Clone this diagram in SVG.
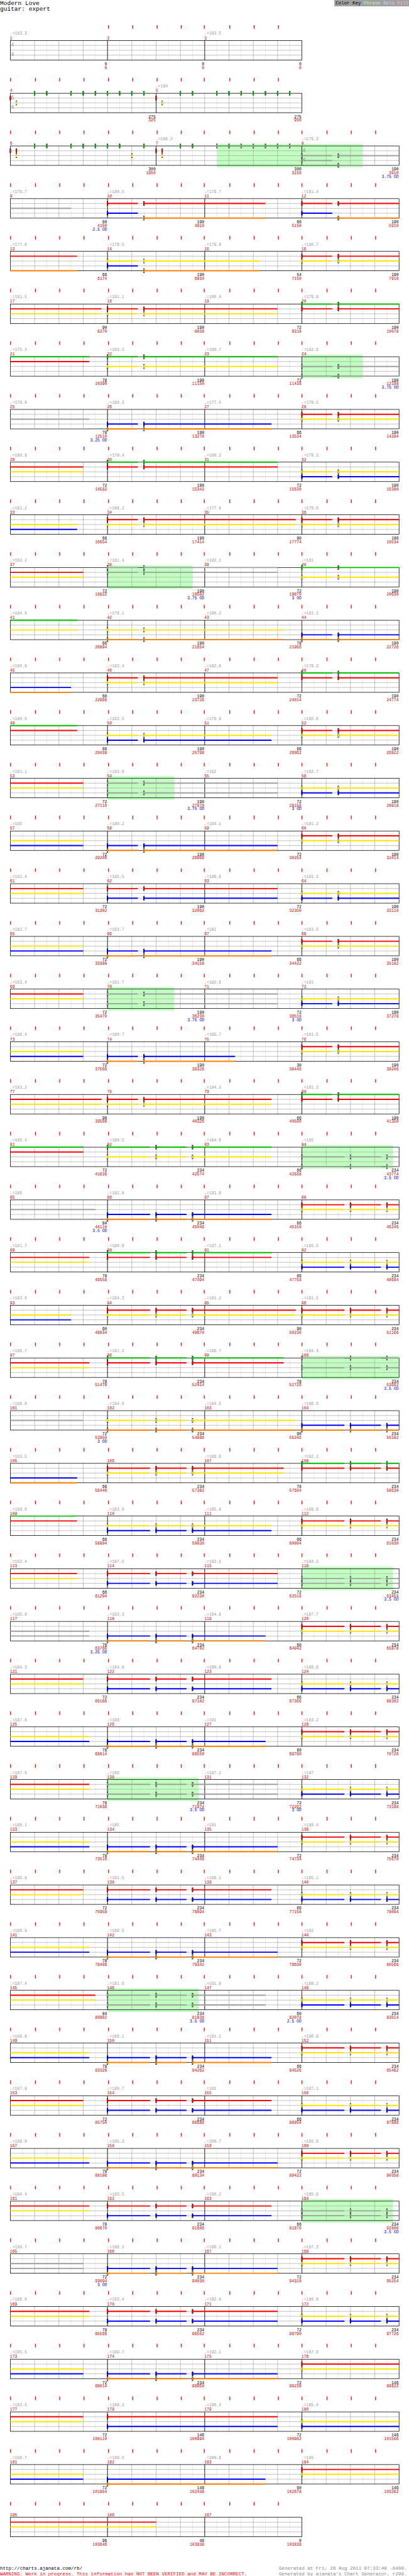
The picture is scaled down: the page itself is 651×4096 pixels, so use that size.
<svg xmlns="http://www.w3.org/2000/svg" width="651" height="4096" viewBox="0 0 651 4096">
<style>
.tk{fill:none;stroke:#f00;stroke-width:2}
.lg{fill:none;stroke:#e0e0e0}
.bg{fill:none;stroke:#a0a0a0}
.ml{fill:none;stroke:#000;stroke-width:1.2}
.s{fill:none;stroke:currentColor;stroke-width:3}
.G{color:#00c000}.R{color:#f00}.Y{color:#ffe600}.B{color:#00f}.O{color:#ff8000}.X{color:#a0a0a0}
.sp{fill:#c0ffc0}
text{font-family:"Liberation Mono","DejaVu Sans Mono",monospace;font-size:10px}
.tp{fill:#999}.mn{fill:#c00}.nb{fill:#000;text-anchor:end}.nr{fill:#c00;text-anchor:end}.od{fill:#00c;text-anchor:end}
.ts{fill:#999;font-size:15px}
.hd{font-size:14.8px;fill:#000}
.ft{font-size:11.7px}
</style>
<defs>
<path id="t16" class="tk" d="M26 0v9M87.5 0v9M147.5 0v9M207.5 0v9M268 0v9M328 0v9M388 0v9M447.5 0v9M504.5 0v9M567.5 0v9M627.5 0v9M687.5 0v9M745.5 0v9M807.5 0v9M867.5 0v9M927.5 0v9"/>
<path id="t12" class="tk" d="M26 0v9M87.5 0v9M147.5 0v9M207.5 0v9M268 0v9M328 0v9M388 0v9M447.5 0v9M504.5 0v9M567.5 0v9M627.5 0v9M687.5 0v9"/>
<g id="g16">
<path class="lg" d="M30 0v48M90 0v48M150 0v48M210 0v48M270 0v48M330 0v48M390 0v48M450 0v48M510 0v48M570 0v48M630 0v48M690 0v48M750 0v48M810 0v48M870 0v48M930 0v48"/>
<path class="bg" d="M60 0v48M120 0v48M180 0v48M240 0v48M300 0v48M360 0v48M420 0v48M480 0v48M540 0v48M600 0v48M660 0v48M720 0v48M780 0v48M840 0v48M900 0v48M0 12H960M0 24H960M0 36H960"/>
<rect class="ml" width="960" height="48"/>
</g>
<g id="g12">
<path class="lg" d="M30 0v48M90 0v48M150 0v48M210 0v48M270 0v48M330 0v48M390 0v48M450 0v48M510 0v48M570 0v48M630 0v48M690 0v48"/>
<path class="bg" d="M60 0v48M120 0v48M180 0v48M240 0v48M300 0v48M360 0v48M420 0v48M480 0v48M540 0v48M600 0v48M660 0v48M0 12H720M0 24H720M0 36H720"/>
<rect class="ml" width="720" height="48"/>
</g>
<g id="st4"><use href="#g16"/><path class="ml" d="M240 0v48M480 0v48M720 0v48"/></g>
<g id="h"><rect x="-1.5" y="-5.5" width="3" height="11" fill="#000"/><rect x="-1.5" y="-4" width="3" height="8" fill="currentColor"/></g>
<g id="b1"><path class="s" d="M265.5 0H340.5"/><use href="#h" x="265.5"/><use href="#h" x="355.5"/></g>
<g id="b2"><path class="s" d="M265.5 0H370.5M385.5 0H460.5"/><use href="#h" x="265.5"/><use href="#h" x="385.5"/><use href="#h" x="475.5"/></g>
<g id="c1"><path class="s" d="M745.5 0H820.5M835.5 0H985.5"/><use href="#h" x="745.5"/><use href="#h" x="835.5"/></g>
<g id="c2"><path class="s" d="M745.5 0H850.5M865.5 0H940.5M955.5 0H985.5"/><use href="#h" x="745.5"/><use href="#h" x="865.5"/><use href="#h" x="955.5"/></g>
</defs>
<rect width="651" height="4096" fill="#fff"/>
<g transform="scale(0.64455)">
<g id="header">
<text class="hd" x="0" y="12.7">Modern Love</text>
<text class="hd" x="0" y="27">guitar: expert</text>
<rect x="825.5" y="0" width="184.5" height="15.7" fill="#a0a0a0"/>
<text x="829" y="11.5" style="font-size:11.5px;fill:#000">Color Key <tspan fill="#b0ffb0">Phrase</tspan> <tspan fill="#d0d0ff">Solo</tspan> <tspan fill="#ffc0c0">Fill</tspan></text>
</g>

<g id="row-0" transform="translate(0,100)">
<path class="tk" d="M268 -38v9M328 -38v9M388 -38v9M447.5 -38v9M504.5 -38v9M567.5 -38v9M627.5 -38v9M687.5 -38v9"/>
<use href="#g12" x="25.5"/><path class="ml" d="M265.5 0v48M505.5 0v48"/>
<text class="ts" x="26" y="15">4</text><text class="ts" x="26" y="38">4</text>
<text class="tp" y="-14"><tspan x="24.5">♩=183.3</tspan><tspan x="504.5">♩=183.5</tspan></text>
<text class="mn" y="-3"><tspan x="24.5">1</tspan><tspan x="264.5">2</tspan><tspan x="504.5">3</tspan></text>
<text class="nb" y="61"><tspan x="264.5">0</tspan><tspan x="504.5">0</tspan><tspan x="744.5">0</tspan></text>
<text class="nr" y="70"><tspan x="264.5">0</tspan><tspan x="504.5">0</tspan><tspan x="744.5">0</tspan></text>
</g>

<g id="row-1" transform="translate(0,230)">
<use href="#t12" y="-38"/>
<use href="#g12" x="25.5"/><path class="ml" d="M385.5 0v48"/>
<text class="ts" x="26" y="15.5">6</text><text class="ts" x="26" y="38">4</text>
<g class="R" transform="translate(0,12)"><use href="#h" x="25.5"/><use href="#h" x="385.5"/></g>
<g class="Y" transform="translate(0,24)"><use href="#h" x="40.5"/><use href="#h" x="400.5"/></g>
<g class="G"><use href="#h" x="85.5"/><use href="#h" x="115.5"/><use href="#h" x="175.5"/><use href="#h" x="205.5"/><use href="#h" x="235.5"/><use href="#h" x="265.5"/><use href="#h" x="295.5"/><use href="#h" x="325.5"/><use href="#h" x="355.5"/><use href="#h" x="445.5"/><use href="#h" x="475.5"/><use href="#h" x="535.5"/><use href="#h" x="565.5"/><use href="#h" x="595.5"/><use href="#h" x="625.5"/><use href="#h" x="655.5"/><use href="#h" x="685.5"/><use href="#h" x="715.5"/></g>
<text class="tp" x="384.5" y="-14">♩=184</text>
<text class="mn" y="-3"><tspan x="24.5">4</tspan><tspan x="384.5">5</tspan></text>
<text class="nb" y="61"><tspan x="384.5">275</tspan><tspan x="744.5">275</tspan></text>
<text class="nr" y="70"><tspan x="384.5">325</tspan><tspan x="744.5">950</tspan></text>
</g>

<g id="row-2" transform="translate(0,360)">
<use href="#t16" y="-38"/>
<rect class="sp" x="535.5" y="-5" width="360" height="58"/>
<use href="#g16" x="25.5"/><path class="ml" d="M385.5 0v48M745.5 0v48"/>
<text class="ts" x="746" y="15">4</text><text class="ts" x="746" y="38">4</text>
<g class="R" transform="translate(0,12)"><use href="#h" x="25.5"/><use href="#h" x="40.5"/><use href="#h" x="385.5"/><use href="#h" x="400.5"/></g>
<g class="Y" transform="translate(0,24)"><use href="#h" x="40.5"/><use href="#h" x="325.5"/><use href="#h" x="400.5"/></g>
<g class="G"><use href="#h" x="85.5"/><use href="#h" x="115.5"/><use href="#h" x="175.5"/><use href="#h" x="205.5"/><use href="#h" x="235.5"/><use href="#h" x="265.5"/><use href="#h" x="295.5"/><use href="#h" x="355.5"/><use href="#h" x="445.5"/><use href="#h" x="475.5"/></g>
<g class="X"><use href="#h" x="535.5"/><use href="#h" x="565.5"/><use href="#h" x="595.5"/><use href="#h" x="625.5"/><use href="#h" x="655.5"/><use href="#h" x="685.5"/><use href="#h" x="715.5"/></g>
<g class="X" transform="translate(0,24)"><use href="#c1"/></g>
<g class="X" transform="translate(0,36)"><path class="s" d="M745.5 0H820.5"/><use href="#h" x="745.5"/></g>
<g class="X" transform="translate(0,48)"><path class="s" d="M835.5 0H985.5"/><use href="#h" x="835.5"/></g>
<text class="tp" y="-14"><tspan x="384.5">♩=186.2</tspan><tspan x="744.5">♩=179.3</tspan></text>
<text class="mn" y="-3"><tspan x="24.5">6</tspan><tspan x="384.5">7</tspan><tspan x="744.5">8</tspan></text>
<text class="nb" y="61"><tspan x="384.5">300</tspan><tspan x="744.5">300</tspan><tspan x="984.5">190</tspan></text>
<text class="nr" y="70"><tspan x="384.5">1950</tspan><tspan x="744.5">3150</tspan><tspan x="984.5">3910</tspan></text>
<text class="od" x="984.5" y="79">3.75 OD</text>
</g>

<g id="row-3" transform="translate(0,490)">
<use href="#t16" y="-38"/><use href="#st4" x="25.5"/>
<g class="X" transform="translate(0,24)"><path class="s" d="M25.5 0H175.5"/></g>
<g class="X" transform="translate(0,48)"><path class="s" d="M25.5 0H175.5"/></g>
<g class="R" transform="translate(0,12)"><path class="s" d="M355.5 0H655.5"/><use href="#b1"/><use href="#c1"/></g>
<g class="B" transform="translate(0,36)"><path class="s" d="M265.5 0H340.5M745.5 0H820.5"/><use href="#h" x="265.5"/><use href="#h" x="745.5"/></g>
<g class="O" transform="translate(0,48)"><path class="s" d="M355.5 0H655.5M835.5 0H985.5"/><use href="#h" x="355.5"/><use href="#h" x="835.5"/></g>
<text class="tp" y="-14"><tspan x="24.5">♩=176.7</tspan><tspan x="264.5">♩=180.5</tspan><tspan x="504.5">♩=176.7</tspan><tspan x="744.5">♩=181.4</tspan></text>
<text class="mn" y="-3"><tspan x="24.5">9</tspan><tspan x="264.5">10</tspan><tspan x="504.5">11</tspan><tspan x="744.5">12</tspan></text>
<text class="nb" y="61"><tspan x="264.5">60</tspan><tspan x="504.5">190</tspan><tspan x="744.5">60</tspan><tspan x="984.5">190</tspan></text>
<text class="nr" y="70"><tspan x="264.5">4150</tspan><tspan x="504.5">4910</tspan><tspan x="744.5">5150</tspan><tspan x="984.5">5910</tspan></text>
<text class="od" x="264.5" y="79">2.5 OD</text>
</g>

<g id="row-4" transform="translate(0,620)">
<use href="#t16" y="-38"/><use href="#st4" x="25.5"/>
<g class="R" transform="translate(0,12)"><path class="s" d="M25.5 0H190.5"/><use href="#c1"/></g>
<g class="O" transform="translate(0,48)"><path class="s" d="M25.5 0H190.5M355.5 0H640.5"/><use href="#h" x="355.5"/></g>
<g class="Y" transform="translate(0,24)"><path class="s" d="M355.5 0H640.5"/><use href="#b1"/><use href="#c1"/></g>
<g class="B" transform="translate(0,36)"><path class="s" d="M265.5 0H340.5"/><use href="#h" x="265.5"/></g>
<text class="tp" y="-14"><tspan x="24.5">♩=177.6</tspan><tspan x="264.5">♩=179.5</tspan><tspan x="504.5">♩=179.9</tspan><tspan x="744.5">♩=180.7</tspan></text>
<text class="mn" y="-3"><tspan x="24.5">13</tspan><tspan x="264.5">14</tspan><tspan x="504.5">15</tspan><tspan x="744.5">16</tspan></text>
<text class="nb" y="61"><tspan x="264.5">66</tspan><tspan x="504.5">190</tspan><tspan x="744.5">54</tspan><tspan x="984.5">190</tspan></text>
<text class="nr" y="70"><tspan x="264.5">6174</tspan><tspan x="504.5">6934</tspan><tspan x="744.5">7150</tspan><tspan x="984.5">7910</tspan></text>
</g>

<g id="row-5" transform="translate(0,750)">
<use href="#t16" y="-38"/><use href="#st4" x="25.5"/>
<g class="R" transform="translate(0,12)"><path class="s" d="M25.5 0H250.5M355.5 0H685.5"/><use href="#b1"/><use href="#c1"/></g>
<g class="Y" transform="translate(0,24)"><path class="s" d="M25.5 0H250.5M355.5 0H685.5"/><use href="#b1"/></g>
<g class="G"><use href="#c1"/></g>
<text class="tp" y="-14"><tspan x="24.5">♩=181.5</tspan><tspan x="264.5">♩=181.1</tspan><tspan x="504.5">♩=180.4</tspan><tspan x="744.5">♩=179.8</tspan></text>
<text class="mn" y="-3"><tspan x="24.5">17</tspan><tspan x="264.5">18</tspan><tspan x="504.5">19</tspan><tspan x="744.5">20</tspan></text>
<text class="nb" y="61"><tspan x="264.5">90</tspan><tspan x="504.5">190</tspan><tspan x="744.5">72</tspan><tspan x="984.5">190</tspan></text>
<text class="nr" y="70"><tspan x="264.5">8270</tspan><tspan x="504.5">9030</tspan><tspan x="744.5">9318</tspan><tspan x="984.5">10078</tspan></text>
</g>

<g id="row-6" transform="translate(0,880)">
<use href="#t16" y="-38"/><rect class="sp" x="745.5" y="-5" width="150" height="58"/><use href="#st4" x="25.5"/>
<g class="G"><path class="s" d="M25.5 0H220.5M355.5 0H685.5"/><use href="#b1"/></g>
<g class="R" transform="translate(0,12)"><path class="s" d="M25.5 0H220.5"/></g>
<g class="Y" transform="translate(0,24)"><path class="s" d="M355.5 0H685.5"/><use href="#b1"/></g>
<g class="X" transform="translate(0,24)"><use href="#c1"/></g>
<g class="X" transform="translate(0,48)"><use href="#c1"/></g>
<text class="tp" y="-14"><tspan x="24.5">♩=175.2</tspan><tspan x="264.5">♩=183.2</tspan><tspan x="504.5">♩=180.7</tspan><tspan x="744.5">♩=182.6</tspan></text>
<text class="mn" y="-3"><tspan x="24.5">21</tspan><tspan x="264.5">22</tspan><tspan x="504.5">23</tspan><tspan x="744.5">24</tspan></text>
<text class="nb" y="61"><tspan x="264.5">78</tspan><tspan x="504.5">190</tspan><tspan x="744.5">72</tspan><tspan x="984.5">190</tspan></text>
<text class="nr" y="70"><tspan x="264.5">10390</tspan><tspan x="504.5">11150</tspan><tspan x="744.5">11438</tspan><tspan x="984.5">12198</tspan></text>
<text class="od" x="984.5" y="79">3.75 OD</text>
</g>

<g id="row-7" transform="translate(0,1010)">
<use href="#t16" y="-38"/><use href="#st4" x="25.5"/>
<g class="X" transform="translate(0,24)"><path class="s" d="M25.5 0H220.5"/></g>
<g class="X" transform="translate(0,48)"><path class="s" d="M25.5 0H220.5"/></g>
<g class="B" transform="translate(0,36)"><path class="s" d="M355.5 0H670.5"/><use href="#b1"/></g>
<g class="O" transform="translate(0,48)"><path class="s" d="M355.5 0H670.5"/><use href="#b1"/></g>
<g class="R" transform="translate(0,12)"><use href="#c1"/></g>
<g class="Y" transform="translate(0,24)"><use href="#c1"/></g>
<text class="tp" y="-14"><tspan x="24.5">♩=179.8</tspan><tspan x="264.5">♩=180.3</tspan><tspan x="504.5">♩=177.5</tspan><tspan x="744.5">♩=179.5</tspan></text>
<text class="mn" y="-3"><tspan x="24.5">25</tspan><tspan x="264.5">26</tspan><tspan x="504.5">27</tspan><tspan x="744.5">28</tspan></text>
<text class="nb" y="61"><tspan x="264.5">78</tspan><tspan x="504.5">190</tspan><tspan x="744.5">66</tspan><tspan x="984.5">190</tspan></text>
<text class="nr" y="70"><tspan x="264.5">12510</tspan><tspan x="504.5">13270</tspan><tspan x="744.5">13534</tspan><tspan x="984.5">14294</tspan></text>
<text class="od" x="264.5" y="79">3.25 OD</text>
</g>

<g id="row-8" transform="translate(0,1140)">
<use href="#t16" y="-38"/><use href="#st4" x="25.5"/>
<g class="R" transform="translate(0,12)"><path class="s" d="M25.5 0H205.5M355.5 0H685.5"/><use href="#b1"/></g>
<g class="Y" transform="translate(0,24)"><path class="s" d="M25.5 0H205.5"/><use href="#c1"/></g>
<g class="G"><path class="s" d="M355.5 0H685.5"/><use href="#b1"/></g>
<g class="B" transform="translate(0,36)"><use href="#c1"/></g>
<text class="tp" y="-14"><tspan x="24.5">♩=180.8</tspan><tspan x="264.5">♩=179.4</tspan><tspan x="504.5">♩=180.2</tspan><tspan x="744.5">♩=179.2</tspan></text>
<text class="mn" y="-3"><tspan x="24.5">29</tspan><tspan x="264.5">30</tspan><tspan x="504.5">31</tspan><tspan x="744.5">32</tspan></text>
<text class="nb" y="61"><tspan x="264.5">72</tspan><tspan x="504.5">190</tspan><tspan x="744.5">72</tspan><tspan x="984.5">190</tspan></text>
<text class="nr" y="70"><tspan x="264.5">14582</tspan><tspan x="504.5">15342</tspan><tspan x="744.5">15630</tspan><tspan x="984.5">16390</tspan></text>
</g>

<g id="row-9" transform="translate(0,1270)">
<use href="#t16" y="-38"/><use href="#st4" x="25.5"/>
<g class="Y" transform="translate(0,24)"><path class="s" d="M25.5 0H190.5M355.5 0H730.5"/><use href="#b1"/><use href="#c1"/></g>
<g class="B" transform="translate(0,36)"><path class="s" d="M25.5 0H190.5"/></g>
<g class="R" transform="translate(0,12)"><path class="s" d="M355.5 0H730.5"/><use href="#b1"/><use href="#c1"/></g>
<text class="tp" y="-14"><tspan x="24.5">♩=181.2</tspan><tspan x="264.5">♩=188.2</tspan><tspan x="504.5">♩=177.8</tspan><tspan x="744.5">♩=179.6</tspan></text>
<text class="mn" y="-3"><tspan x="24.5">33</tspan><tspan x="264.5">34</tspan><tspan x="504.5">35</tspan><tspan x="744.5">36</tspan></text>
<text class="nb" y="61"><tspan x="264.5">66</tspan><tspan x="504.5">190</tspan><tspan x="744.5">90</tspan><tspan x="984.5">190</tspan></text>
<text class="nr" y="70"><tspan x="264.5">16654</tspan><tspan x="504.5">17414</tspan><tspan x="744.5">17774</tspan><tspan x="984.5">18534</tspan></text>
</g>

<g id="row-10" transform="translate(0,1400)">
<use href="#t16" y="-38"/><rect class="sp" x="265.5" y="-5" width="210" height="58"/><use href="#st4" x="25.5"/>
<g class="R" transform="translate(0,12)"><path class="s" d="M25.5 0H205.5"/></g>
<g class="Y" transform="translate(0,24)"><path class="s" d="M25.5 0H205.5"/><use href="#c1"/></g>
<g class="X"><path class="s" d="M355.5 0H685.5"/><use href="#b1"/></g>
<g class="X" transform="translate(0,12)"><path class="s" d="M355.5 0H685.5"/><use href="#b1"/></g>
<g class="G"><use href="#c1"/></g>
<text class="tp" y="-14"><tspan x="24.5">♩=183.2</tspan><tspan x="264.5">♩=181.4</tspan><tspan x="504.5">♩=182.1</tspan><tspan x="744.5">♩=181</tspan></text>
<text class="mn" y="-3"><tspan x="24.5">37</tspan><tspan x="264.5">38</tspan><tspan x="504.5">39</tspan><tspan x="744.5">40</tspan></text>
<text class="nb" y="61"><tspan x="264.5">72</tspan><tspan x="504.5">190</tspan><tspan x="744.5">72</tspan><tspan x="984.5">190</tspan></text>
<text class="nr" y="70"><tspan x="264.5">18822</tspan><tspan x="504.5">19582</tspan><tspan x="744.5">19870</tspan><tspan x="984.5">20630</tspan></text>
<text class="od" y="79"><tspan x="504.5">3.75 OD</tspan><tspan x="744.5">3 OD</tspan></text>
</g>

<g id="row-11" transform="translate(0,1530)">
<use href="#t16" y="-38"/><use href="#st4" x="25.5"/>
<g class="G"><path class="s" d="M25.5 0H190.5"/></g>
<g class="Y" transform="translate(0,24)"><path class="s" d="M25.5 0H190.5M355.5 0H700.5"/><use href="#b1"/></g>
<g class="O" transform="translate(0,48)"><path class="s" d="M355.5 0H700.5"/><use href="#b1"/><use href="#c1"/></g>
<g class="B" transform="translate(0,36)"><use href="#c1"/></g>
<text class="tp" y="-14"><tspan x="24.5">♩=184.8</tspan><tspan x="264.5">♩=178.1</tspan><tspan x="504.5">♩=180.2</tspan><tspan x="744.5">♩=181.3</tspan></text>
<text class="mn" y="-3"><tspan x="24.5">41</tspan><tspan x="264.5">42</tspan><tspan x="504.5">43</tspan><tspan x="744.5">44</tspan></text>
<text class="nb" y="61"><tspan x="264.5">66</tspan><tspan x="504.5">190</tspan><tspan x="744.5">78</tspan><tspan x="984.5">190</tspan></text>
<text class="nr" y="70"><tspan x="264.5">20894</tspan><tspan x="504.5">21654</tspan><tspan x="744.5">21966</tspan><tspan x="984.5">22726</tspan></text>
</g>

<g id="row-12" transform="translate(0,1660)">
<use href="#t16" y="-38"/><use href="#st4" x="25.5"/>
<g class="B" transform="translate(0,36)"><path class="s" d="M25.5 0H175.5"/></g>
<g class="O" transform="translate(0,48)"><path class="s" d="M25.5 0H175.5"/></g>
<g class="R" transform="translate(0,12)"><path class="s" d="M355.5 0H685.5"/><use href="#b1"/><use href="#c1"/></g>
<g class="Y" transform="translate(0,24)"><path class="s" d="M355.5 0H685.5"/><use href="#b1"/></g>
<g class="G"><use href="#c1"/></g>
<text class="tp" y="-14"><tspan x="24.5">♩=180.9</tspan><tspan x="264.5">♩=183.4</tspan><tspan x="504.5">♩=182.8</tspan><tspan x="744.5">♩=179.3</tspan></text>
<text class="mn" y="-3"><tspan x="24.5">45</tspan><tspan x="264.5">46</tspan><tspan x="504.5">47</tspan><tspan x="744.5">48</tspan></text>
<text class="nb" y="61"><tspan x="264.5">60</tspan><tspan x="504.5">190</tspan><tspan x="744.5">72</tspan><tspan x="984.5">190</tspan></text>
<text class="nr" y="70"><tspan x="264.5">22966</tspan><tspan x="504.5">23726</tspan><tspan x="744.5">24014</tspan><tspan x="984.5">24774</tspan></text>
</g>

<g id="row-13" transform="translate(0,1790)">
<use href="#t16" y="-38"/><use href="#st4" x="25.5"/>
<g class="G"><path class="s" d="M25.5 0H190.5"/></g>
<g class="R" transform="translate(0,12)"><path class="s" d="M25.5 0H190.5"/><use href="#c1"/></g>
<g class="Y" transform="translate(0,24)"><path class="s" d="M355.5 0H670.5"/><use href="#b1"/><use href="#c1"/></g>
<g class="B" transform="translate(0,36)"><path class="s" d="M355.5 0H670.5"/><use href="#b1"/></g>
<text class="tp" y="-14"><tspan x="24.5">♩=180.5</tspan><tspan x="264.5">♩=183.5</tspan><tspan x="504.5">♩=179.9</tspan><tspan x="744.5">♩=180.8</tspan></text>
<text class="mn" y="-3"><tspan x="24.5">49</tspan><tspan x="264.5">50</tspan><tspan x="504.5">51</tspan><tspan x="744.5">52</tspan></text>
<text class="nb" y="61"><tspan x="264.5">66</tspan><tspan x="504.5">190</tspan><tspan x="744.5">66</tspan><tspan x="984.5">190</tspan></text>
<text class="nr" y="70"><tspan x="264.5">25038</tspan><tspan x="504.5">25798</tspan><tspan x="744.5">26062</tspan><tspan x="984.5">26822</tspan></text>
</g>

<g id="row-14" transform="translate(0,1920)">
<use href="#t16" y="-38"/><rect class="sp" x="265.5" y="-5" width="165" height="58"/><use href="#st4" x="25.5"/>
<g class="R" transform="translate(0,12)"><path class="s" d="M25.5 0H205.5"/></g>
<g class="Y" transform="translate(0,24)"><path class="s" d="M25.5 0H205.5"/><use href="#c1"/></g>
<g class="X" transform="translate(0,12)"><path class="s" d="M355.5 0H685.5"/><use href="#b1"/></g>
<g class="X" transform="translate(0,36)"><path class="s" d="M355.5 0H685.5"/><use href="#b1"/></g>
<g class="B" transform="translate(0,36)"><use href="#c1"/></g>
<text class="tp" y="-14"><tspan x="24.5">♩=181.1</tspan><tspan x="264.5">♩=183.9</tspan><tspan x="504.5">♩=182</tspan><tspan x="744.5">♩=182.7</tspan></text>
<text class="mn" y="-3"><tspan x="24.5">53</tspan><tspan x="264.5">54</tspan><tspan x="504.5">55</tspan><tspan x="744.5">56</tspan></text>
<text class="nb" y="61"><tspan x="264.5">72</tspan><tspan x="504.5">190</tspan><tspan x="744.5">72</tspan><tspan x="984.5">190</tspan></text>
<text class="nr" y="70"><tspan x="264.5">27110</tspan><tspan x="504.5">27870</tspan><tspan x="744.5">28158</tspan><tspan x="984.5">28918</tspan></text>
<text class="od" y="79"><tspan x="504.5">3.75 OD</tspan><tspan x="744.5">3 OD</tspan></text>
</g>

<g id="row-15" transform="translate(0,2050)">
<use href="#t16" y="-38"/><use href="#st4" x="25.5"/>
<g class="Y" transform="translate(0,24)"><path class="s" d="M25.5 0H205.5"/><use href="#c1"/></g>
<g class="B" transform="translate(0,36)"><path class="s" d="M25.5 0H205.5M355.5 0H685.5"/><use href="#b1"/></g>
<g class="O" transform="translate(0,48)"><path class="s" d="M355.5 0H685.5"/><use href="#b1"/></g>
<g class="R" transform="translate(0,12)"><use href="#c1"/></g>
<text class="tp" y="-14"><tspan x="24.5">♩=185</tspan><tspan x="264.5">♩=180.2</tspan><tspan x="504.5">♩=184.1</tspan><tspan x="744.5">♩=181.2</tspan></text>
<text class="mn" y="-3"><tspan x="24.5">57</tspan><tspan x="264.5">58</tspan><tspan x="504.5">59</tspan><tspan x="744.5">60</tspan></text>
<text class="nb" y="61"><tspan x="264.5">72</tspan><tspan x="504.5">190</tspan><tspan x="744.5">72</tspan><tspan x="984.5">190</tspan></text>
<text class="nr" y="70"><tspan x="264.5">29206</tspan><tspan x="504.5">29966</tspan><tspan x="744.5">30254</tspan><tspan x="984.5">31014</tspan></text>
</g>

<g id="row-16" transform="translate(0,2180)">
<use href="#t16" y="-38"/><use href="#st4" x="25.5"/>
<g class="R" transform="translate(0,12)"><path class="s" d="M25.5 0H205.5M355.5 0H685.5"/><use href="#b1"/></g>
<g class="Y" transform="translate(0,24)"><path class="s" d="M25.5 0H205.5"/><use href="#c1"/></g>
<g class="B" transform="translate(0,36)"><path class="s" d="M355.5 0H685.5"/><use href="#b1"/><use href="#c1"/></g>
<text class="tp" y="-14"><tspan x="24.5">♩=182.4</tspan><tspan x="264.5">♩=185.5</tspan><tspan x="504.5">♩=186.6</tspan><tspan x="744.5">♩=182.3</tspan></text>
<text class="mn" y="-3"><tspan x="24.5">61</tspan><tspan x="264.5">62</tspan><tspan x="504.5">63</tspan><tspan x="744.5">64</tspan></text>
<text class="nb" y="61"><tspan x="264.5">72</tspan><tspan x="504.5">190</tspan><tspan x="744.5">72</tspan><tspan x="984.5">190</tspan></text>
<text class="nr" y="70"><tspan x="264.5">31302</tspan><tspan x="504.5">32062</tspan><tspan x="744.5">32350</tspan><tspan x="984.5">33110</tspan></text>
</g>

<g id="row-17" transform="translate(0,2310)">
<use href="#t16" y="-38"/><use href="#st4" x="25.5"/>
<g class="Y" transform="translate(0,24)"><path class="s" d="M25.5 0H205.5"/><use href="#c1"/></g>
<g class="B" transform="translate(0,36)"><path class="s" d="M25.5 0H205.5M355.5 0H670.5"/><use href="#b1"/></g>
<g class="O" transform="translate(0,48)"><path class="s" d="M355.5 0H670.5"/><use href="#b1"/></g>
<g class="R" transform="translate(0,12)"><use href="#c1"/></g>
<text class="tp" y="-14"><tspan x="24.5">♩=182.7</tspan><tspan x="264.5">♩=183.7</tspan><tspan x="504.5">♩=181</tspan><tspan x="744.5">♩=183.5</tspan></text>
<text class="mn" y="-3"><tspan x="24.5">65</tspan><tspan x="264.5">66</tspan><tspan x="504.5">67</tspan><tspan x="744.5">68</tspan></text>
<text class="nb" y="61"><tspan x="264.5">72</tspan><tspan x="504.5">190</tspan><tspan x="744.5">66</tspan><tspan x="984.5">190</tspan></text>
<text class="nr" y="70"><tspan x="264.5">33398</tspan><tspan x="504.5">34158</tspan><tspan x="744.5">34422</tspan><tspan x="984.5">35182</tspan></text>
</g>

<g id="row-18" transform="translate(0,2440)">
<use href="#t16" y="-38"/><rect class="sp" x="265.5" y="-5" width="165" height="58"/><use href="#st4" x="25.5"/>
<g class="R" transform="translate(0,12)"><path class="s" d="M25.5 0H205.5"/></g>
<g class="Y" transform="translate(0,24)"><path class="s" d="M25.5 0H205.5"/><use href="#c1"/></g>
<g class="X" transform="translate(0,12)"><path class="s" d="M355.5 0H685.5"/><use href="#b1"/></g>
<g class="X" transform="translate(0,36)"><path class="s" d="M355.5 0H685.5"/><use href="#b1"/></g>
<g class="B" transform="translate(0,36)"><use href="#c1"/></g>
<text class="tp" y="-14"><tspan x="24.5">♩=183.4</tspan><tspan x="264.5">♩=181.7</tspan><tspan x="504.5">♩=182.6</tspan><tspan x="744.5">♩=181</tspan></text>
<text class="mn" y="-3"><tspan x="24.5">69</tspan><tspan x="264.5">70</tspan><tspan x="504.5">71</tspan><tspan x="744.5">72</tspan></text>
<text class="nb" y="61"><tspan x="264.5">72</tspan><tspan x="504.5">190</tspan><tspan x="744.5">72</tspan><tspan x="984.5">190</tspan></text>
<text class="nr" y="70"><tspan x="264.5">35470</tspan><tspan x="504.5">36230</tspan><tspan x="744.5">36518</tspan><tspan x="984.5">37278</tspan></text>
<text class="od" y="79"><tspan x="504.5">3.75 OD</tspan><tspan x="744.5">3 OD</tspan></text>
</g>

<g id="row-19" transform="translate(0,2570)">
<use href="#t16" y="-38"/><use href="#st4" x="25.5"/>
<g class="Y" transform="translate(0,24)"><path class="s" d="M25.5 0H205.5"/><use href="#c1"/></g>
<g class="B" transform="translate(0,36)"><path class="s" d="M25.5 0H205.5M355.5 0H580.5"/><use href="#b1"/></g>
<g class="O" transform="translate(0,48)"><path class="s" d="M355.5 0H580.5"/><use href="#b1"/></g>
<g class="R" transform="translate(0,12)"><use href="#c1"/></g>
<text class="tp" y="-14"><tspan x="24.5">♩=189.4</tspan><tspan x="264.5">♩=180.7</tspan><tspan x="504.5">♩=185.7</tspan><tspan x="744.5">♩=181.5</tspan></text>
<text class="mn" y="-3"><tspan x="24.5">73</tspan><tspan x="264.5">74</tspan><tspan x="504.5">75</tspan><tspan x="744.5">76</tspan></text>
<text class="nb" y="61"><tspan x="264.5">72</tspan><tspan x="504.5">190</tspan><tspan x="744.5">30</tspan><tspan x="984.5">190</tspan></text>
<text class="nr" y="70"><tspan x="264.5">37566</tspan><tspan x="504.5">38326</tspan><tspan x="744.5">38446</tspan><tspan x="984.5">39206</tspan></text>
</g>

<g id="row-20" transform="translate(0,2700)">
<use href="#t16" y="-38"/><use href="#st4" x="25.5"/>
<g class="R" transform="translate(0,12)"><path class="s" d="M25.5 0H250.5M355.5 0H670.5"/><use href="#b1"/><use href="#c1"/></g>
<g class="Y" transform="translate(0,24)"><path class="s" d="M25.5 0H250.5M355.5 0H670.5"/><use href="#b1"/></g>
<g class="G"><use href="#c1"/></g>
<text class="tp" y="-14"><tspan x="24.5">♩=183.2</tspan><tspan x="504.5">♩=184.3</tspan><tspan x="744.5">♩=181.3</tspan></text>
<text class="mn" y="-3"><tspan x="24.5">77</tspan><tspan x="264.5">78</tspan><tspan x="504.5">79</tspan><tspan x="744.5">80</tspan></text>
<text class="nb" y="61"><tspan x="264.5">90</tspan><tspan x="504.5">190</tspan><tspan x="744.5">66</tspan><tspan x="984.5">190</tspan></text>
<text class="nr" y="70"><tspan x="264.5">39566</tspan><tspan x="504.5">40326</tspan><tspan x="744.5">40590</tspan><tspan x="984.5">41350</tspan></text>
</g>

<g id="row-21" transform="translate(0,2830)">
<use href="#t16" y="-38"/><rect class="sp" x="745.5" y="-5" width="225" height="58"/><use href="#st4" x="25.5"/>
<g class="G"><path class="s" d="M25.5 0H205.5M475.5 0H670.5"/><use href="#b2"/></g>
<g class="R" transform="translate(0,12)"><path class="s" d="M25.5 0H205.5"/></g>
<g class="Y" transform="translate(0,24)"><path class="s" d="M475.5 0H670.5"/><use href="#b2"/></g>
<g class="X" transform="translate(0,24)"><use href="#c2"/></g>
<g class="X" transform="translate(0,48)"><use href="#c2"/></g>
<text class="tp" y="-14"><tspan x="24.5">♩=185.4</tspan><tspan x="264.5">♩=180.5</tspan><tspan x="504.5">♩=184.6</tspan><tspan x="744.5">♩=185</tspan></text>
<text class="mn" y="-3"><tspan x="24.5">81</tspan><tspan x="264.5">82</tspan><tspan x="504.5">83</tspan><tspan x="744.5">84</tspan></text>
<text class="nb" y="61"><tspan x="264.5">72</tspan><tspan x="504.5">234</tspan><tspan x="744.5">66</tspan><tspan x="984.5">234</tspan></text>
<text class="nr" y="70"><tspan x="264.5">41638</tspan><tspan x="504.5">42574</tspan><tspan x="744.5">42838</tspan><tspan x="984.5">43774</tspan></text>
<text class="od" x="984.5" y="79">3.5 OD</text>
</g>

<g id="row-22" transform="translate(0,2960)">
<use href="#t16" y="-38"/><use href="#st4" x="25.5"/>
<g class="X" transform="translate(0,24)"><path class="s" d="M25.5 0H235.5"/></g>
<g class="X" transform="translate(0,48)"><path class="s" d="M25.5 0H235.5"/></g>
<g class="B" transform="translate(0,36)"><path class="s" d="M475.5 0H670.5"/><use href="#b2"/></g>
<g class="O" transform="translate(0,48)"><path class="s" d="M475.5 0H670.5"/><use href="#b2"/></g>
<g class="R" transform="translate(0,12)"><use href="#c2"/></g>
<g class="Y" transform="translate(0,24)"><use href="#c2"/></g>
<text class="tp" y="-14"><tspan x="24.5">♩=186</tspan><tspan x="264.5">♩=182.8</tspan><tspan x="504.5">♩=181.9</tspan></text>
<text class="mn" y="-3"><tspan x="24.5">85</tspan><tspan x="264.5">86</tspan><tspan x="504.5">87</tspan><tspan x="744.5">88</tspan></text>
<text class="nb" y="61"><tspan x="264.5">84</tspan><tspan x="504.5">234</tspan><tspan x="744.5">66</tspan><tspan x="984.5">234</tspan></text>
<text class="nr" y="70"><tspan x="264.5">44110</tspan><tspan x="504.5">45046</tspan><tspan x="744.5">45310</tspan><tspan x="984.5">46246</tspan></text>
<text class="od" x="264.5" y="79">3.5 OD</text>
</g>

<g id="row-23" transform="translate(0,3090)">
<use href="#t16" y="-38"/><use href="#st4" x="25.5"/>
<g class="R" transform="translate(0,12)"><path class="s" d="M25.5 0H220.5M475.5 0H670.5"/><use href="#b2"/></g>
<g class="Y" transform="translate(0,24)"><path class="s" d="M25.5 0H220.5"/><use href="#c2"/></g>
<g class="G"><path class="s" d="M475.5 0H670.5"/><use href="#b2"/></g>
<g class="B" transform="translate(0,36)"><use href="#c2"/></g>
<text class="tp" y="-14"><tspan x="24.5">♩=181.7</tspan><tspan x="264.5">♩=180.8</tspan><tspan x="504.5">♩=187.1</tspan><tspan x="744.5">♩=185.5</tspan></text>
<text class="mn" y="-3"><tspan x="24.5">89</tspan><tspan x="264.5">90</tspan><tspan x="504.5">91</tspan><tspan x="744.5">92</tspan></text>
<text class="nb" y="61"><tspan x="264.5">78</tspan><tspan x="504.5">234</tspan><tspan x="744.5">66</tspan><tspan x="984.5">234</tspan></text>
<text class="nr" y="70"><tspan x="264.5">46558</tspan><tspan x="504.5">47494</tspan><tspan x="744.5">47758</tspan><tspan x="984.5">48694</tspan></text>
</g>

<g id="row-24" transform="translate(0,3220)">
<use href="#t16" y="-38"/><use href="#st4" x="25.5"/>
<g class="Y" transform="translate(0,24)"><path class="s" d="M25.5 0H175.5M475.5 0H730.5"/><use href="#b2"/><use href="#c2"/></g>
<g class="B" transform="translate(0,36)"><path class="s" d="M25.5 0H175.5"/></g>
<g class="R" transform="translate(0,12)"><path class="s" d="M475.5 0H730.5"/><use href="#b2"/><use href="#c2"/></g>
<text class="tp" y="-14"><tspan x="24.5">♩=183.6</tspan><tspan x="264.5">♩=184.3</tspan><tspan x="504.5">♩=181.2</tspan><tspan x="744.5">♩=181.5</tspan></text>
<text class="mn" y="-3"><tspan x="24.5">93</tspan><tspan x="264.5">94</tspan><tspan x="504.5">95</tspan><tspan x="744.5">96</tspan></text>
<text class="nb" y="61"><tspan x="264.5">60</tspan><tspan x="504.5">234</tspan><tspan x="744.5">90</tspan><tspan x="984.5">234</tspan></text>
<text class="nr" y="70"><tspan x="264.5">48934</tspan><tspan x="504.5">49870</tspan><tspan x="744.5">50230</tspan><tspan x="984.5">51166</tspan></text>
</g>

<g id="row-25" transform="translate(0,3350)">
<use href="#t16" y="-38"/><rect class="sp" x="745.5" y="-5" width="240" height="58"/><use href="#st4" x="25.5"/>
<g class="R" transform="translate(0,12)"><path class="s" d="M25.5 0H220.5M475.5 0H700.5"/><use href="#b2"/></g>
<g class="Y" transform="translate(0,24)"><path class="s" d="M25.5 0H220.5"/></g>
<g class="G"><path class="s" d="M475.5 0H700.5"/><use href="#b2"/></g>
<g class="X"><use href="#c2"/></g>
<g class="X" transform="translate(0,24)"><use href="#c2"/></g>
<text class="tp" y="-14"><tspan x="24.5">♩=186.7</tspan><tspan x="264.5">♩=181.2</tspan><tspan x="504.5">♩=186.7</tspan><tspan x="744.5">♩=184.3</tspan></text>
<text class="mn" y="-3"><tspan x="24.5">97</tspan><tspan x="264.5">98</tspan><tspan x="504.5">99</tspan><tspan x="744.5">100</tspan></text>
<text class="nb" y="61"><tspan x="264.5">78</tspan><tspan x="504.5">234</tspan><tspan x="744.5">78</tspan><tspan x="984.5">234</tspan></text>
<text class="nr" y="70"><tspan x="264.5">51478</tspan><tspan x="504.5">52414</tspan><tspan x="744.5">52726</tspan><tspan x="984.5">53662</tspan></text>
<text class="od" x="984.5" y="79">3.5 OD</text>
</g>

<g id="row-26" transform="translate(0,3480)">
<use href="#t16" y="-38"/><use href="#st4" x="25.5"/>
<g class="X"><path class="s" d="M25.5 0H205.5"/></g>
<g class="X" transform="translate(0,24)"><path class="s" d="M25.5 0H205.5"/></g>
<g class="Y" transform="translate(0,24)"><path class="s" d="M475.5 0H730.5"/><use href="#b2"/></g>
<g class="O" transform="translate(0,48)"><path class="s" d="M475.5 0H730.5"/><use href="#b2"/><use href="#c2"/></g>
<g class="B" transform="translate(0,36)"><use href="#c2"/></g>
<text class="tp" y="-14"><tspan x="24.5">♩=186.8</tspan><tspan x="264.5">♩=184.6</tspan><tspan x="504.5">♩=184.5</tspan><tspan x="744.5">♩=186.6</tspan></text>
<text class="mn" y="-3"><tspan x="24.5">101</tspan><tspan x="264.5">102</tspan><tspan x="504.5">103</tspan><tspan x="744.5">104</tspan></text>
<text class="nb" y="61"><tspan x="264.5">72</tspan><tspan x="504.5">234</tspan><tspan x="744.5">90</tspan><tspan x="984.5">234</tspan></text>
<text class="nr" y="70"><tspan x="264.5">53950</tspan><tspan x="504.5">54886</tspan><tspan x="744.5">55246</tspan><tspan x="984.5">56182</tspan></text>
<text class="od" x="264.5" y="79">3 OD</text>
</g>

<g id="row-27" transform="translate(0,3610)">
<use href="#t16" y="-38"/><use href="#st4" x="25.5"/>
<g class="B" transform="translate(0,36)"><path class="s" d="M25.5 0H190.5"/></g>
<g class="O" transform="translate(0,48)"><path class="s" d="M25.5 0H190.5"/></g>
<g class="R" transform="translate(0,12)"><path class="s" d="M475.5 0H700.5"/><use href="#b2"/><use href="#c2"/></g>
<g class="Y" transform="translate(0,24)"><path class="s" d="M475.5 0H700.5"/><use href="#b2"/></g>
<g class="G"><use href="#c2"/></g>
<text class="tp" y="-14"><tspan x="24.5">♩=183.5</tspan><tspan x="504.5">♩=186.9</tspan><tspan x="744.5">♩=182.2</tspan></text>
<text class="mn" y="-3"><tspan x="24.5">105</tspan><tspan x="264.5">106</tspan><tspan x="504.5">107</tspan><tspan x="744.5">108</tspan></text>
<text class="nb" y="61"><tspan x="264.5">66</tspan><tspan x="504.5">234</tspan><tspan x="744.5">78</tspan><tspan x="984.5">234</tspan></text>
<text class="nr" y="70"><tspan x="264.5">56446</tspan><tspan x="504.5">57382</tspan><tspan x="744.5">57694</tspan><tspan x="984.5">58630</tspan></text>
</g>

<g id="row-28" transform="translate(0,3740)">
<use href="#t16" y="-38"/><use href="#st4" x="25.5"/>
<g class="G"><path class="s" d="M25.5 0H190.5"/></g>
<g class="R" transform="translate(0,12)"><path class="s" d="M25.5 0H190.5"/><use href="#c2"/></g>
<g class="Y" transform="translate(0,24)"><path class="s" d="M475.5 0H670.5"/><use href="#b2"/><use href="#c2"/></g>
<g class="B" transform="translate(0,36)"><path class="s" d="M475.5 0H670.5"/><use href="#b2"/></g>
<text class="tp" y="-14"><tspan x="24.5">♩=189.6</tspan><tspan x="264.5">♩=183.9</tspan><tspan x="504.5">♩=185.8</tspan><tspan x="744.5">♩=189.8</tspan></text>
<text class="mn" y="-3"><tspan x="24.5">109</tspan><tspan x="264.5">110</tspan><tspan x="504.5">111</tspan><tspan x="744.5">112</tspan></text>
<text class="nb" y="61"><tspan x="264.5">66</tspan><tspan x="504.5">234</tspan><tspan x="744.5">66</tspan><tspan x="984.5">234</tspan></text>
<text class="nr" y="70"><tspan x="264.5">58894</tspan><tspan x="504.5">59830</tspan><tspan x="744.5">60094</tspan><tspan x="984.5">61030</tspan></text>
</g>

<g id="row-29" transform="translate(0,3870)">
<use href="#t16" y="-38"/><rect class="sp" x="745.5" y="-5" width="225" height="58"/><use href="#st4" x="25.5"/>
<g class="R" transform="translate(0,12)"><path class="s" d="M25.5 0H190.5M475.5 0H685.5"/><use href="#b2"/></g>
<g class="Y" transform="translate(0,24)"><path class="s" d="M25.5 0H190.5"/></g>
<g class="B" transform="translate(0,36)"><path class="s" d="M475.5 0H685.5"/><use href="#b2"/></g>
<g class="X" transform="translate(0,24)"><use href="#c2"/></g>
<g class="X" transform="translate(0,36)"><use href="#c2"/></g>
<text class="tp" y="-14"><tspan x="24.5">♩=182.4</tspan><tspan x="264.5">♩=187.5</tspan><tspan x="504.5">♩=192.5</tspan><tspan x="744.5">♩=184.3</tspan></text>
<text class="mn" y="-3"><tspan x="24.5">113</tspan><tspan x="264.5">114</tspan><tspan x="504.5">115</tspan><tspan x="744.5">116</tspan></text>
<text class="nb" y="61"><tspan x="264.5">66</tspan><tspan x="504.5">234</tspan><tspan x="744.5">72</tspan><tspan x="984.5">234</tspan></text>
<text class="nr" y="70"><tspan x="264.5">61294</tspan><tspan x="504.5">62230</tspan><tspan x="744.5">62518</tspan><tspan x="984.5">63454</tspan></text>
<text class="od" x="984.5" y="79">3.5 OD</text>
</g>

<g id="row-30" transform="translate(0,4000)">
<use href="#t16" y="-38"/><use href="#st4" x="25.5"/>
<g class="X" transform="translate(0,24)"><path class="s" d="M25.5 0H220.5"/></g>
<g class="X" transform="translate(0,36)"><path class="s" d="M25.5 0H220.5"/></g>
<g class="B" transform="translate(0,36)"><path class="s" d="M475.5 0H655.5"/><use href="#b2"/></g>
<g class="O" transform="translate(0,48)"><path class="s" d="M475.5 0H655.5"/><use href="#b2"/></g>
<g class="R" transform="translate(0,12)"><use href="#c2"/></g>
<g class="Y" transform="translate(0,24)"><use href="#c2"/></g>
<text class="tp" y="-14"><tspan x="24.5">♩=185.9</tspan><tspan x="264.5">♩=182.3</tspan><tspan x="504.5">♩=194.8</tspan><tspan x="744.5">♩=187.7</tspan></text>
<text class="mn" y="-3"><tspan x="24.5">117</tspan><tspan x="264.5">118</tspan><tspan x="504.5">119</tspan><tspan x="744.5">120</tspan></text>
<text class="nb" y="61"><tspan x="264.5">78</tspan><tspan x="504.5">234</tspan><tspan x="744.5">60</tspan><tspan x="984.5">234</tspan></text>
<text class="nr" y="70"><tspan x="264.5">63766</tspan><tspan x="504.5">64702</tspan><tspan x="744.5">64942</tspan><tspan x="984.5">65878</tspan></text>
<text class="od" x="264.5" y="79">3.25 OD</text>
</g>

<g id="row-31" transform="translate(0,4130)">
<use href="#t16" y="-38"/><use href="#st4" x="25.5"/>
<g class="R" transform="translate(0,12)"><path class="s" d="M25.5 0H205.5M475.5 0H670.5"/><use href="#b2"/></g>
<g class="Y" transform="translate(0,24)"><path class="s" d="M25.5 0H205.5"/><use href="#c2"/></g>
<g class="B" transform="translate(0,36)"><path class="s" d="M475.5 0H670.5"/><use href="#b2"/><use href="#c2"/></g>
<text class="tp" y="-14"><tspan x="24.5">♩=184.3</tspan><tspan x="264.5">♩=184.8</tspan><tspan x="504.5">♩=189.8</tspan><tspan x="744.5">♩=186.6</tspan></text>
<text class="mn" y="-3"><tspan x="24.5">121</tspan><tspan x="264.5">122</tspan><tspan x="504.5">123</tspan><tspan x="744.5">124</tspan></text>
<text class="nb" y="61"><tspan x="264.5">72</tspan><tspan x="504.5">234</tspan><tspan x="744.5">66</tspan><tspan x="984.5">234</tspan></text>
<text class="nr" y="70"><tspan x="264.5">66166</tspan><tspan x="504.5">67102</tspan><tspan x="744.5">67366</tspan><tspan x="984.5">68302</tspan></text>
</g>

<g id="row-32" transform="translate(0,4260)">
<use href="#t16" y="-38"/><use href="#st4" x="25.5"/>
<g class="Y" transform="translate(0,24)"><path class="s" d="M25.5 0H220.5"/><use href="#c2"/></g>
<g class="B" transform="translate(0,36)"><path class="s" d="M25.5 0H220.5M475.5 0H655.5"/><use href="#b2"/></g>
<g class="O" transform="translate(0,48)"><path class="s" d="M475.5 0H655.5"/><use href="#b2"/></g>
<g class="R" transform="translate(0,12)"><use href="#c2"/></g>
<text class="tp" y="-14"><tspan x="24.5">♩=187.8</tspan><tspan x="264.5">♩=188</tspan><tspan x="504.5">♩=191</tspan><tspan x="744.5">♩=183.2</tspan></text>
<text class="mn" y="-3"><tspan x="24.5">125</tspan><tspan x="264.5">126</tspan><tspan x="504.5">127</tspan><tspan x="744.5">128</tspan></text>
<text class="nb" y="61"><tspan x="264.5">78</tspan><tspan x="504.5">234</tspan><tspan x="744.5">60</tspan><tspan x="984.5">234</tspan></text>
<text class="nr" y="70"><tspan x="264.5">68614</tspan><tspan x="504.5">69550</tspan><tspan x="744.5">69790</tspan><tspan x="984.5">70726</tspan></text>
</g>

<g id="row-33" transform="translate(0,4390)">
<use href="#t16" y="-38"/><rect class="sp" x="265.5" y="-5" width="225" height="58"/><use href="#st4" x="25.5"/>
<g class="R" transform="translate(0,12)"><path class="s" d="M25.5 0H220.5"/></g>
<g class="Y" transform="translate(0,24)"><path class="s" d="M25.5 0H220.5"/><use href="#c2"/></g>
<g class="X" transform="translate(0,12)"><path class="s" d="M475.5 0H685.5"/><use href="#b2"/></g>
<g class="X" transform="translate(0,36)"><path class="s" d="M475.5 0H685.5"/><use href="#b2"/></g>
<g class="B" transform="translate(0,36)"><use href="#c2"/></g>
<text class="tp" y="-14"><tspan x="24.5">♩=187.5</tspan><tspan x="264.5">♩=186</tspan><tspan x="504.5">♩=187.2</tspan><tspan x="744.5">♩=187</tspan></text>
<text class="mn" y="-3"><tspan x="24.5">129</tspan><tspan x="264.5">130</tspan><tspan x="504.5">131</tspan><tspan x="744.5">132</tspan></text>
<text class="nb" y="61"><tspan x="264.5">78</tspan><tspan x="504.5">234</tspan><tspan x="744.5">72</tspan><tspan x="984.5">234</tspan></text>
<text class="nr" y="70"><tspan x="264.5">71038</tspan><tspan x="504.5">71974</tspan><tspan x="744.5">72262</tspan><tspan x="984.5">73198</tspan></text>
<text class="od" y="79"><tspan x="504.5">3.5 OD</tspan><tspan x="744.5">3 OD</tspan></text>
</g>

<g id="row-34" transform="translate(0,4520)">
<use href="#t16" y="-38"/><use href="#st4" x="25.5"/>
<g class="Y" transform="translate(0,24)"><path class="s" d="M25.5 0H220.5"/><use href="#c2"/></g>
<g class="B" transform="translate(0,36)"><path class="s" d="M25.5 0H220.5M475.5 0H685.5"/><use href="#b2"/></g>
<g class="O" transform="translate(0,48)"><path class="s" d="M475.5 0H685.5"/><use href="#b2"/></g>
<g class="R" transform="translate(0,12)"><use href="#c2"/></g>
<text class="tp" y="-14"><tspan x="24.5">♩=188.1</tspan><tspan x="264.5">♩=185</tspan><tspan x="504.5">♩=191</tspan><tspan x="744.5">♩=186.4</tspan></text>
<text class="mn" y="-3"><tspan x="24.5">133</tspan><tspan x="264.5">134</tspan><tspan x="504.5">135</tspan><tspan x="744.5">136</tspan></text>
<text class="nb" y="61"><tspan x="264.5">78</tspan><tspan x="504.5">234</tspan><tspan x="744.5">72</tspan><tspan x="984.5">234</tspan></text>
<text class="nr" y="70"><tspan x="264.5">73510</tspan><tspan x="504.5">74446</tspan><tspan x="744.5">74734</tspan><tspan x="984.5">75670</tspan></text>
</g>

<g id="row-35" transform="translate(0,4650)">
<use href="#t16" y="-38"/><use href="#st4" x="25.5"/>
<g class="R" transform="translate(0,12)"><path class="s" d="M25.5 0H205.5M475.5 0H670.5"/><use href="#b2"/></g>
<g class="Y" transform="translate(0,24)"><path class="s" d="M25.5 0H205.5"/><use href="#c2"/></g>
<g class="B" transform="translate(0,36)"><path class="s" d="M475.5 0H670.5"/><use href="#b2"/><use href="#c2"/></g>
<text class="tp" y="-14"><tspan x="24.5">♩=190.8</tspan><tspan x="264.5">♩=181.5</tspan><tspan x="504.5">♩=186.1</tspan><tspan x="744.5">♩=195.1</tspan></text>
<text class="mn" y="-3"><tspan x="24.5">137</tspan><tspan x="264.5">138</tspan><tspan x="504.5">139</tspan><tspan x="744.5">140</tspan></text>
<text class="nb" y="61"><tspan x="264.5">72</tspan><tspan x="504.5">234</tspan><tspan x="744.5">66</tspan><tspan x="984.5">234</tspan></text>
<text class="nr" y="70"><tspan x="264.5">75958</tspan><tspan x="504.5">76894</tspan><tspan x="744.5">77158</tspan><tspan x="984.5">78094</tspan></text>
</g>

<g id="row-36" transform="translate(0,4780)">
<use href="#t16" y="-38"/><use href="#st4" x="25.5"/>
<g class="Y" transform="translate(0,24)"><path class="s" d="M25.5 0H220.5"/><use href="#c2"/></g>
<g class="B" transform="translate(0,36)"><path class="s" d="M25.5 0H220.5M475.5 0H685.5"/><use href="#b2"/></g>
<g class="O" transform="translate(0,48)"><path class="s" d="M475.5 0H685.5"/><use href="#b2"/></g>
<g class="R" transform="translate(0,12)"><use href="#c2"/></g>
<text class="tp" y="-14"><tspan x="24.5">♩=190.9</tspan><tspan x="264.5">♩=189.5</tspan><tspan x="504.5">♩=185.7</tspan><tspan x="744.5">♩=192</tspan></text>
<text class="mn" y="-3"><tspan x="24.5">141</tspan><tspan x="264.5">142</tspan><tspan x="504.5">143</tspan><tspan x="744.5">144</tspan></text>
<text class="nb" y="61"><tspan x="264.5">78</tspan><tspan x="504.5">234</tspan><tspan x="744.5">72</tspan><tspan x="984.5">234</tspan></text>
<text class="nr" y="70"><tspan x="264.5">78406</tspan><tspan x="504.5">79342</tspan><tspan x="744.5">79630</tspan><tspan x="984.5">80566</tspan></text>
</g>

<g id="row-37" transform="translate(0,4910)">
<use href="#t16" y="-38"/><rect class="sp" x="265.5" y="-5" width="225" height="58"/><use href="#st4" x="25.5"/>
<g class="R" transform="translate(0,12)"><path class="s" d="M25.5 0H235.5"/></g>
<g class="Y" transform="translate(0,24)"><path class="s" d="M25.5 0H235.5"/><use href="#c2"/></g>
<g class="X" transform="translate(0,12)"><path class="s" d="M475.5 0H655.5"/><use href="#b2"/></g>
<g class="X" transform="translate(0,36)"><path class="s" d="M475.5 0H655.5"/><use href="#b2"/></g>
<g class="B" transform="translate(0,36)"><use href="#c2"/></g>
<text class="tp" y="-14"><tspan x="24.5">♩=187.4</tspan><tspan x="264.5">♩=181.6</tspan><tspan x="504.5">♩=191.9</tspan><tspan x="744.5">♩=189.2</tspan></text>
<text class="mn" y="-3"><tspan x="24.5">145</tspan><tspan x="264.5">146</tspan><tspan x="504.5">147</tspan><tspan x="744.5">148</tspan></text>
<text class="nb" y="61"><tspan x="264.5">84</tspan><tspan x="504.5">234</tspan><tspan x="744.5">60</tspan><tspan x="984.5">234</tspan></text>
<text class="nr" y="70"><tspan x="264.5">80902</tspan><tspan x="504.5">81838</tspan><tspan x="744.5">82078</tspan><tspan x="984.5">83014</tspan></text>
<text class="od" y="79"><tspan x="504.5">3.5 OD</tspan><tspan x="744.5">2.5 OD</tspan></text>
</g>

<g id="row-38" transform="translate(0,5040)">
<use href="#t16" y="-38"/><use href="#st4" x="25.5"/>
<g class="Y" transform="translate(0,24)"><path class="s" d="M25.5 0H220.5"/><use href="#c2"/></g>
<g class="B" transform="translate(0,36)"><path class="s" d="M25.5 0H220.5M475.5 0H670.5"/><use href="#b2"/></g>
<g class="O" transform="translate(0,48)"><path class="s" d="M475.5 0H670.5"/><use href="#b2"/></g>
<g class="R" transform="translate(0,12)"><use href="#c2"/></g>
<text class="tp" y="-14"><tspan x="24.5">♩=188.8</tspan><tspan x="264.5">♩=186.1</tspan><tspan x="504.5">♩=191.1</tspan><tspan x="744.5">♩=190.8</tspan></text>
<text class="mn" y="-3"><tspan x="24.5">149</tspan><tspan x="264.5">150</tspan><tspan x="504.5">151</tspan><tspan x="744.5">152</tspan></text>
<text class="nb" y="61"><tspan x="264.5">78</tspan><tspan x="504.5">234</tspan><tspan x="744.5">66</tspan><tspan x="984.5">234</tspan></text>
<text class="nr" y="70"><tspan x="264.5">83326</tspan><tspan x="504.5">84262</tspan><tspan x="744.5">84526</tspan><tspan x="984.5">85462</tspan></text>
</g>

<g id="row-39" transform="translate(0,5170)">
<use href="#t16" y="-38"/><use href="#st4" x="25.5"/>
<g class="R" transform="translate(0,12)"><path class="s" d="M25.5 0H205.5M475.5 0H670.5"/><use href="#b2"/></g>
<g class="Y" transform="translate(0,24)"><path class="s" d="M25.5 0H205.5"/><use href="#c2"/></g>
<g class="B" transform="translate(0,36)"><path class="s" d="M475.5 0H670.5"/><use href="#b2"/><use href="#c2"/></g>
<text class="tp" y="-14"><tspan x="24.5">♩=187.8</tspan><tspan x="264.5">♩=180.7</tspan><tspan x="504.5">♩=193</tspan><tspan x="744.5">♩=187.1</tspan></text>
<text class="mn" y="-3"><tspan x="24.5">153</tspan><tspan x="264.5">154</tspan><tspan x="504.5">155</tspan><tspan x="744.5">156</tspan></text>
<text class="nb" y="61"><tspan x="264.5">72</tspan><tspan x="504.5">234</tspan><tspan x="744.5">66</tspan><tspan x="984.5">234</tspan></text>
<text class="nr" y="70"><tspan x="264.5">85750</tspan><tspan x="504.5">86686</tspan><tspan x="744.5">86950</tspan><tspan x="984.5">87886</tspan></text>
</g>

<g id="row-40" transform="translate(0,5300)">
<use href="#t16" y="-38"/><use href="#st4" x="25.5"/>
<g class="Y" transform="translate(0,24)"><path class="s" d="M25.5 0H220.5"/><use href="#c2"/></g>
<g class="B" transform="translate(0,36)"><path class="s" d="M25.5 0H220.5M475.5 0H685.5"/><use href="#b2"/></g>
<g class="O" transform="translate(0,48)"><path class="s" d="M475.5 0H685.5"/><use href="#b2"/></g>
<g class="R" transform="translate(0,12)"><use href="#c2"/></g>
<text class="tp" y="-14"><tspan x="24.5">♩=189.9</tspan><tspan x="264.5">♩=185.3</tspan><tspan x="504.5">♩=200.7</tspan><tspan x="744.5">♩=185.8</tspan></text>
<text class="mn" y="-3"><tspan x="24.5">157</tspan><tspan x="264.5">158</tspan><tspan x="504.5">159</tspan><tspan x="744.5">160</tspan></text>
<text class="nb" y="61"><tspan x="264.5">78</tspan><tspan x="504.5">234</tspan><tspan x="744.5">72</tspan><tspan x="984.5">234</tspan></text>
<text class="nr" y="70"><tspan x="264.5">88198</tspan><tspan x="504.5">89134</tspan><tspan x="744.5">89422</tspan><tspan x="984.5">90358</tspan></text>
</g>

<g id="row-41" transform="translate(0,5430)">
<use href="#t16" y="-38"/><rect class="sp" x="745.5" y="-5" width="225" height="58"/><use href="#st4" x="25.5"/>
<g class="R" transform="translate(0,12)"><path class="s" d="M25.5 0H220.5M475.5 0H670.5"/><use href="#b2"/></g>
<g class="Y" transform="translate(0,24)"><path class="s" d="M25.5 0H220.5"/></g>
<g class="B" transform="translate(0,36)"><path class="s" d="M475.5 0H670.5"/><use href="#b2"/></g>
<g class="X" transform="translate(0,24)"><use href="#c2"/></g>
<g class="X" transform="translate(0,36)"><use href="#c2"/></g>
<text class="tp" y="-14"><tspan x="24.5">♩=194.4</tspan><tspan x="264.5">♩=183.5</tspan><tspan x="504.5">♩=190.2</tspan><tspan x="744.5">♩=185.6</tspan></text>
<text class="mn" y="-3"><tspan x="24.5">161</tspan><tspan x="264.5">162</tspan><tspan x="504.5">163</tspan><tspan x="744.5">164</tspan></text>
<text class="nb" y="61"><tspan x="264.5">78</tspan><tspan x="504.5">234</tspan><tspan x="744.5">66</tspan><tspan x="984.5">234</tspan></text>
<text class="nr" y="70"><tspan x="264.5">90670</tspan><tspan x="504.5">91606</tspan><tspan x="744.5">91870</tspan><tspan x="984.5">92806</tspan></text>
<text class="od" x="984.5" y="79">3.5 OD</text>
</g>

<g id="row-42" transform="translate(0,5560)">
<use href="#t16" y="-38"/><use href="#st4" x="25.5"/>
<g class="X" transform="translate(0,24)"><path class="s" d="M25.5 0H205.5"/></g>
<g class="X" transform="translate(0,36)"><path class="s" d="M25.5 0H205.5"/></g>
<g class="B" transform="translate(0,36)"><path class="s" d="M475.5 0H685.5"/><use href="#b2"/></g>
<g class="O" transform="translate(0,48)"><path class="s" d="M475.5 0H685.5"/><use href="#b2"/></g>
<g class="R" transform="translate(0,12)"><use href="#c2"/></g>
<g class="Y" transform="translate(0,24)"><use href="#c2"/></g>
<text class="tp" y="-14"><tspan x="24.5">♩=189.7</tspan><tspan x="264.5">♩=186.2</tspan><tspan x="504.5">♩=196.1</tspan><tspan x="744.5">♩=187.3</tspan></text>
<text class="mn" y="-3"><tspan x="24.5">165</tspan><tspan x="264.5">166</tspan><tspan x="504.5">167</tspan><tspan x="744.5">168</tspan></text>
<text class="nb" y="61"><tspan x="264.5">72</tspan><tspan x="504.5">234</tspan><tspan x="744.5">72</tspan><tspan x="984.5">234</tspan></text>
<text class="nr" y="70"><tspan x="264.5">93094</tspan><tspan x="504.5">94030</tspan><tspan x="744.5">94318</tspan><tspan x="984.5">95254</tspan></text>
<text class="od" x="264.5" y="79">3 OD</text>
</g>

<g id="row-43" transform="translate(0,5690)">
<use href="#t16" y="-38"/><use href="#st4" x="25.5"/>
<g class="R" transform="translate(0,12)"><path class="s" d="M25.5 0H220.5M475.5 0H685.5"/><use href="#b2"/></g>
<g class="Y" transform="translate(0,24)"><path class="s" d="M25.5 0H220.5"/><use href="#c2"/></g>
<g class="B" transform="translate(0,36)"><path class="s" d="M475.5 0H685.5"/><use href="#b2"/><use href="#c2"/></g>
<text class="tp" y="-14"><tspan x="24.5">♩=186.9</tspan><tspan x="264.5">♩=183.4</tspan><tspan x="504.5">♩=192.9</tspan><tspan x="744.5">♩=186.8</tspan></text>
<text class="mn" y="-3"><tspan x="24.5">169</tspan><tspan x="264.5">170</tspan><tspan x="504.5">171</tspan><tspan x="744.5">172</tspan></text>
<text class="nb" y="61"><tspan x="264.5">78</tspan><tspan x="504.5">234</tspan><tspan x="744.5">72</tspan><tspan x="984.5">234</tspan></text>
<text class="nr" y="70"><tspan x="264.5">95566</tspan><tspan x="504.5">96502</tspan><tspan x="744.5">96790</tspan><tspan x="984.5">97726</tspan></text>
</g>

<g id="row-44" transform="translate(0,5820)">
<use href="#t16" y="-38"/><use href="#st4" x="25.5"/>
<g class="Y" transform="translate(0,24)"><path class="s" d="M25.5 0H205.5M745.5 0H985.5"/><use href="#h" x="745.5"/></g>
<g class="B" transform="translate(0,36)"><path class="s" d="M25.5 0H205.5M475.5 0H685.5"/><use href="#b2"/></g>
<g class="O" transform="translate(0,48)"><path class="s" d="M475.5 0H685.5"/><use href="#b2"/></g>
<g class="R" transform="translate(0,12)"><path class="s" d="M745.5 0H985.5"/><use href="#h" x="745.5"/></g>
<text class="tp" y="-14"><tspan x="24.5">♩=185.5</tspan><tspan x="264.5">♩=189.7</tspan><tspan x="504.5">♩=192.1</tspan><tspan x="744.5">♩=187.6</tspan></text>
<text class="mn" y="-3"><tspan x="24.5">173</tspan><tspan x="264.5">174</tspan><tspan x="504.5">175</tspan><tspan x="744.5">176</tspan></text>
<text class="nb" y="61"><tspan x="264.5">72</tspan><tspan x="504.5">234</tspan><tspan x="744.5">72</tspan><tspan x="984.5">146</tspan></text>
<text class="nr" y="70"><tspan x="264.5">98014</tspan><tspan x="504.5">98950</tspan><tspan x="744.5">99238</tspan><tspan x="984.5">99822</tspan></text>
</g>

<g id="row-45" transform="translate(0,5950)">
<use href="#t16" y="-38"/><use href="#st4" x="25.5"/>
<g class="R" transform="translate(0,12)"><path class="s" d="M25.5 0H205.5M265.5 0H685.5"/><use href="#h" x="265.5"/></g>
<g class="Y" transform="translate(0,24)"><path class="s" d="M25.5 0H205.5M745.5 0H985.5"/><use href="#h" x="745.5"/></g>
<g class="B" transform="translate(0,36)"><path class="s" d="M265.5 0H685.5M745.5 0H985.5"/><use href="#h" x="265.5"/><use href="#h" x="745.5"/></g>
<text class="tp" y="-14"><tspan x="24.5">♩=183.5</tspan><tspan x="264.5">♩=188.2</tspan><tspan x="504.5">♩=190.4</tspan><tspan x="744.5">♩=185.4</tspan></text>
<text class="mn" y="-3"><tspan x="24.5">177</tspan><tspan x="264.5">178</tspan><tspan x="504.5">179</tspan><tspan x="744.5">180</tspan></text>
<text class="nb" y="61"><tspan x="264.5">72</tspan><tspan x="504.5">146</tspan><tspan x="744.5">72</tspan><tspan x="984.5">146</tspan></text>
<text class="nr" y="70"><tspan x="264.5">100110</tspan><tspan x="504.5">100694</tspan><tspan x="744.5">100982</tspan><tspan x="984.5">101566</tspan></text>
</g>

<g id="row-46" transform="translate(0,6080)">
<use href="#t16" y="-38"/><use href="#st4" x="25.5"/>
<g class="Y" transform="translate(0,24)"><path class="s" d="M25.5 0H205.5M745.5 0H985.5"/><use href="#h" x="745.5"/></g>
<g class="B" transform="translate(0,36)"><path class="s" d="M25.5 0H205.5M265.5 0H655.5"/><use href="#h" x="265.5"/></g>
<g class="O" transform="translate(0,48)"><path class="s" d="M265.5 0H655.5"/><use href="#h" x="265.5"/></g>
<g class="R" transform="translate(0,12)"><path class="s" d="M745.5 0H985.5"/><use href="#h" x="745.5"/></g>
<text class="tp" y="-14"><tspan x="24.5">♩=188.7</tspan><tspan x="264.5">♩=189.5</tspan><tspan x="504.5">♩=200.6</tspan><tspan x="744.5">♩=185</tspan></text>
<text class="mn" y="-3"><tspan x="24.5">181</tspan><tspan x="264.5">182</tspan><tspan x="504.5">183</tspan><tspan x="744.5">184</tspan></text>
<text class="nb" y="61"><tspan x="264.5">72</tspan><tspan x="504.5">146</tspan><tspan x="744.5">60</tspan><tspan x="984.5">146</tspan></text>
<text class="nr" y="70"><tspan x="264.5">101854</tspan><tspan x="504.5">102438</tspan><tspan x="744.5">102678</tspan><tspan x="984.5">103262</tspan></text>
</g>

<g id="row-47" transform="translate(0,6210)">
<use href="#t12" y="-38"/>
<use href="#g12" x="25.5"/><path class="ml" d="M265.5 0v48M505.5 0v48"/>
<g class="R" transform="translate(0,12)"><path class="s" d="M25.5 0H385.5"/></g>
<g class="Y" transform="translate(0,24)"><path class="s" d="M25.5 0H385.5"/></g>
<text class="mn" y="-3"><tspan x="24.5">185</tspan><tspan x="264.5">186</tspan><tspan x="504.5">187</tspan></text>
<text class="nb" y="61"><tspan x="264.5">96</tspan><tspan x="504.5">48</tspan><tspan x="744.5">0</tspan></text>
<text class="nr" y="70"><tspan x="264.5">103646</tspan><tspan x="504.5">103838</tspan><tspan x="744.5">103838</tspan></text>
</g>

<g id="footer">
<text class="ft" x="0" y="6339" fill="#000">http://charts.ajanata.com/rb/</text>
<text class="ft" x="0" y="6353" fill="#f00">WARNING: Work in progress. This information has NOT BEEN VERIFIED and MAY BE INCORRECT.</text>
<text class="ft" x="689" y="6339" fill="#888">Generated at Fri, 26 Aug 2011 07:33:48 -0400.</text>
<text class="ft" x="689" y="6353" fill="#888">Generated by ajanata's Chart Generator, r299.</text>
</g>
</g>
</svg>
